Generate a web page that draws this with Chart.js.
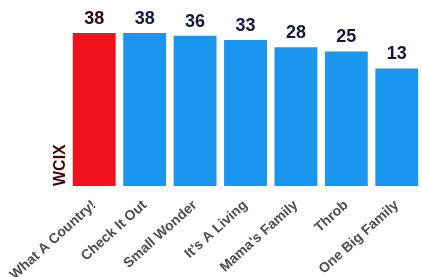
<!DOCTYPE html>
<html>
<head>
<meta charset="utf-8">
<script src="https://cdn.jsdelivr.net/npm/chart.js@4/dist/chart.umd.min.js"></script>
<style>
  html, body { margin: 0; padding: 0; background: #fff; }
  #wrap { width: 422px; height: 277px; }
</style>
</head>
<body>
<div id="wrap"><canvas id="chart"></canvas></div>
<script>
const shows = ['What A Country!', 'Check It Out', 'Small Wonder', "It's A Living", "Mama's Family", 'Throb', 'One Big Family'];
const ratings = [38, 38, 36, 33, 28, 25, 13];
const barColors = ['#f2101c', '#1a96ee', '#1a96ee', '#1a96ee', '#1a96ee', '#1a96ee', '#1a96ee'];
const labelColors = ['#2a0808', '#14183a', '#14183a', '#14183a', '#14183a', '#14183a', '#14183a'];
const axisMin = -70;

// draws the value above each bar
const valueLabels = {
  id: 'valueLabels',
  afterDatasetsDraw(chart) {
    const ctx = chart.ctx;
    const meta = chart.getDatasetMeta(0);
    ctx.save();
    ctx.font = 'bold 18px "Liberation Sans", Arial, sans-serif';
    ctx.textAlign = 'center';
    ctx.textBaseline = 'bottom';
    meta.data.forEach((bar, i) => {
      ctx.fillStyle = labelColors[i];
      ctx.fillText(ratings[i], bar.x, bar.y - 5);
    });
    ctx.restore();
  }
};

new Chart(document.getElementById('chart'), {
  type: 'bar',
  data: {
    labels: shows,
    datasets: [{
      data: ratings,
      base: axisMin,
      backgroundColor: barColors,
      barPercentage: 0.85,
      categoryPercentage: 1
    }]
  },
  options: {
    responsive: true,
    maintainAspectRatio: false,
    animation: false,
    layout: { padding: { left: 46, top: 33, right: 0, bottom: 0 } },
    plugins: { legend: { display: false }, tooltip: { enabled: false } },
    scales: {
      x: {
        grid: { display: false },
        border: { display: false },
        ticks: {
          minRotation: 42,
          maxRotation: 42,
          autoSkip: false,
          color: '#4d4d4d',
          font: { family: '"Liberation Sans", Arial, sans-serif', size: 14, weight: 'bold' }
        },
        afterFit(scale) {
          scale.height = 91;
          scale.paddingLeft = 0;
          scale.paddingRight = 0;
        }
      },
      y: {
        min: axisMin,
        max: 38,
        grid: { display: false },
        border: { display: false },
        ticks: { display: false },
        title: {
          display: true,
          text: 'WCIX',
          align: 'start',
          color: '#3a0a0a',
          padding: { top: 5, bottom: 0 },
          font: { family: '"Liberation Sans", Arial, sans-serif', size: 16, weight: 'bold' }
        },
        afterFit(scale) {
          scale.width = 23;
        }
      }
    }
  },
  plugins: [valueLabels]
});
</script>
</body>
</html>
